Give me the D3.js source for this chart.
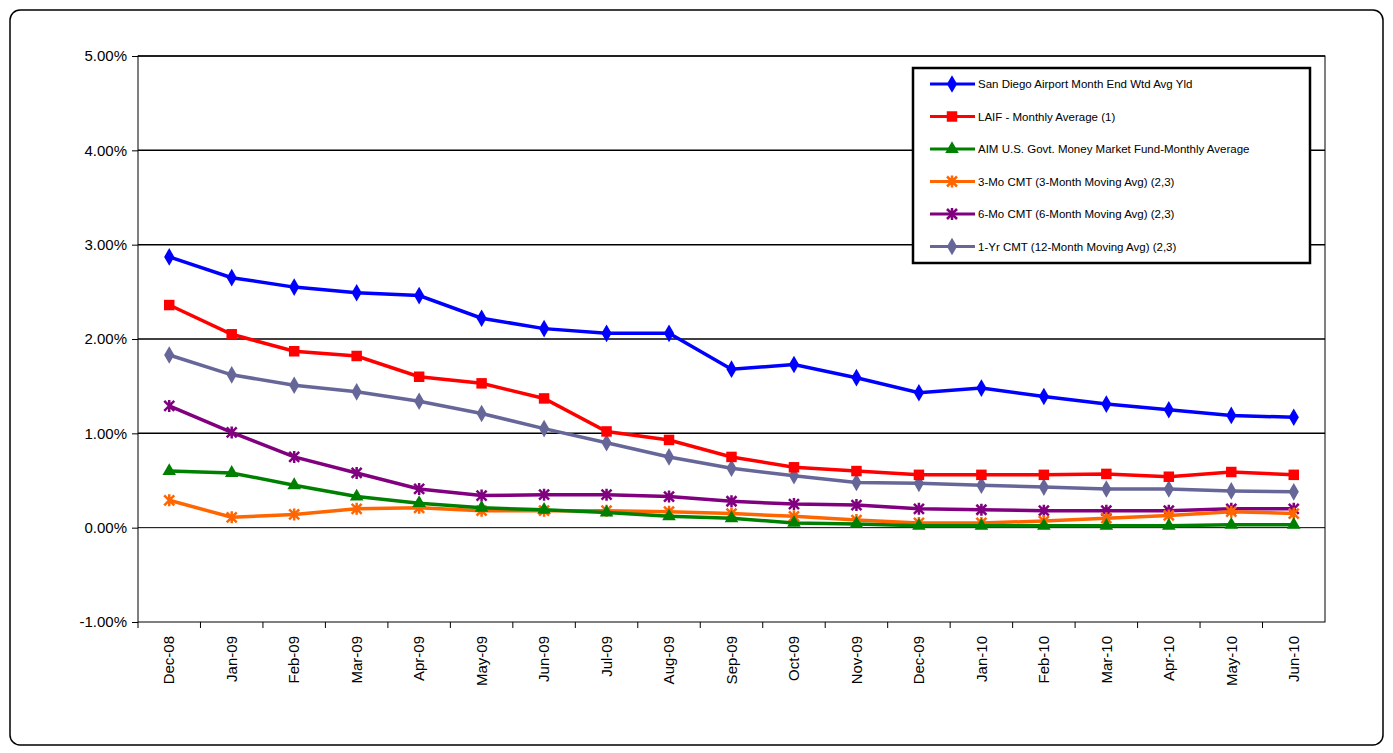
<!DOCTYPE html>
<html>
<head>
  <meta charset="utf-8">
  <script src="https://d3js.org/d3.v7.min.js"></script>
  <style>
    body { margin: 0; background: #fff; }
    text { font-family: "Liberation Sans", Arial, sans-serif; }
  </style>
</head>
<body>
<svg id="chart" width="1393" height="753"></svg>
<script>
  var months = ["Dec-08","Jan-09","Feb-09","Mar-09","Apr-09","May-09","Jun-09","Jul-09","Aug-09","Sep-09",
    "Oct-09","Nov-09","Dec-09","Jan-10","Feb-10","Mar-10","Apr-10","May-10","Jun-10"];
  var airport = [2.87,2.65,2.55,2.49,2.46,2.22,2.11,2.06,2.06,1.68,1.73,1.59,1.43,1.48,1.39,1.31,1.25,1.19,1.17];
  var laif = [2.36,2.05,1.87,1.82,1.60,1.53,1.37,1.02,0.93,0.75,0.64,0.60,0.56,0.56,0.56,0.57,0.54,0.59,0.56];
  var aim = [0.60,0.58,0.45,0.33,0.26,0.21,0.19,0.16,0.12,0.10,0.05,0.04,0.02,0.02,0.02,0.02,0.02,0.03,0.03];
  var cmt3 = [0.29,0.11,0.14,0.20,0.21,0.18,0.18,0.18,0.17,0.15,0.12,0.08,0.05,0.05,0.07,0.10,0.13,0.17,0.15];
  var cmt6 = [1.29,1.01,0.75,0.58,0.41,0.34,0.35,0.35,0.33,0.28,0.25,0.24,0.20,0.19,0.18,0.18,0.18,0.20,0.20];
  var cmt12 = [1.83,1.62,1.51,1.44,1.34,1.21,1.05,0.90,0.75,0.63,0.55,0.48,0.47,0.45,0.43,0.41,0.41,0.39,0.38];
  var yTicks = [-1,0,1,2,3,4,5];

  var series = [
    { name: "San Diego Airport Month End Wtd Avg Yld", values: airport, color: "#0000ff", sym: d3.symbolDiamond, size: 90 },
    { name: "LAIF - Monthly Average (1)", values: laif, color: "#ff0000", sym: d3.symbolSquare, size: 110 },
    { name: "AIM U.S. Govt. Money Market Fund-Monthly Average", values: aim, color: "#008000", sym: d3.symbolTriangle, size: 80 },
    { name: "3-Mo CMT (3-Month Moving Avg) (2,3)", values: cmt3, color: "#ff6600", star: true },
    { name: "6-Mo CMT (6-Month Moving Avg) (2,3)", values: cmt6, color: "#800080", star: true },
    { name: "1-Yr CMT (12-Month Moving Avg) (2,3)", values: cmt12, color: "#666699", sym: d3.symbolDiamond, size: 90 }
  ];

  var svg = d3.select("#chart");
  var pLeft = 138, pRight = 1325, pTop = 56, pBottom = 622;

  svg.append("rect").attr("x", 10).attr("y", 10).attr("width", 1373).attr("height", 735)
    .attr("rx", 10).attr("fill", "#fff").attr("stroke", "#000").attr("stroke-width", 1.5);

  var x = d3.scaleBand().domain(months).range([pLeft, pRight]);
  var y = d3.scaleLinear().domain([-1, 5]).range([pBottom, pTop]);

  // gridlines
  svg.append("g").selectAll("line").data(yTicks.filter(function (d) { return d > -1; }))
    .join("line")
    .attr("x1", pLeft).attr("x2", pRight)
    .attr("y1", function (d) { return y(d); }).attr("y2", function (d) { return y(d); })
    .attr("stroke", "#000").attr("stroke-width", function (d) { return d === 0 ? 1 : 1.5; });

  svg.append("rect").attr("x", pLeft).attr("y", pTop).attr("width", pRight - pLeft).attr("height", pBottom - pTop)
    .attr("fill", "none").attr("stroke", "#000").attr("stroke-width", 1);

  // y axis
  var yAxis = svg.append("g").attr("transform", "translate(" + pLeft + ",0)")
    .call(d3.axisLeft(y).tickValues(yTicks).tickSize(6).tickFormat(function (d) { return d.toFixed(2) + "%"; }));
  yAxis.select(".domain").remove();
  yAxis.selectAll("text").attr("font-size", 15).attr("fill", "#000").attr("dx", -2);

  // x axis
  var xAxis = svg.append("g").attr("transform", "translate(0," + pBottom + ")")
    .call(d3.axisBottom(x).tickSize(6));
  xAxis.select(".domain").remove();
  xAxis.selectAll(".tick line").attr("transform", "translate(" + (-x.bandwidth() / 2) + ",0)");
  xAxis.selectAll("text").attr("font-size", 15).attr("fill", "#000")
    .attr("transform", "rotate(-90)").attr("text-anchor", "end")
    .attr("x", -14).attr("y", 0).attr("dy", "0.35em");

  var cx = function (i) { return x(months[i]) + x.bandwidth() / 2; };
  var line = d3.line().x(function (d, i) { return cx(i); }).y(function (d) { return y(d); });

  function drawMarker(g, s, px, py) {
    if (s.star) {
      g.append("path")
        .attr("d", "M" + (px - 5) + "," + (py - 5) + "L" + (px + 5) + "," + (py + 5) +
          "M" + (px + 5) + "," + (py - 5) + "L" + (px - 5) + "," + (py + 5) +
          "M" + px + "," + (py - 6) + "L" + px + "," + (py + 6))
        .attr("stroke", s.color).attr("stroke-width", 2.5).attr("fill", "none");
    } else {
      g.append("path").attr("d", d3.symbol().type(s.sym).size(s.size)())
        .attr("transform", "translate(" + px + "," + py + ")").attr("fill", s.color);
    }
  }

  series.slice().reverse().forEach(function (s) {
    var g = svg.append("g");
    g.append("path").datum(s.values).attr("d", line)
      .attr("fill", "none").attr("stroke", s.color).attr("stroke-width", 3.5);
    s.values.forEach(function (v, i) { drawMarker(g, s, cx(i), y(v)); });
  });

  // legend
  var lg = svg.append("g");
  lg.append("rect").attr("x", 913).attr("y", 68).attr("width", 397).attr("height", 195)
    .attr("fill", "#fff").attr("stroke", "#000").attr("stroke-width", 2.5);
  series.forEach(function (s, i) {
    var ly = 84 + i * 32.5;
    lg.append("line").attr("x1", 930).attr("x2", 975).attr("y1", ly).attr("y2", ly)
      .attr("stroke", s.color).attr("stroke-width", 3);
    drawMarker(lg, s, 952, ly);
    lg.append("text").attr("x", 978).attr("y", ly).attr("dy", "0.35em")
      .attr("font-size", 11.5).attr("fill", "#000").text(s.name);
  });
</script>
</body>
</html>
